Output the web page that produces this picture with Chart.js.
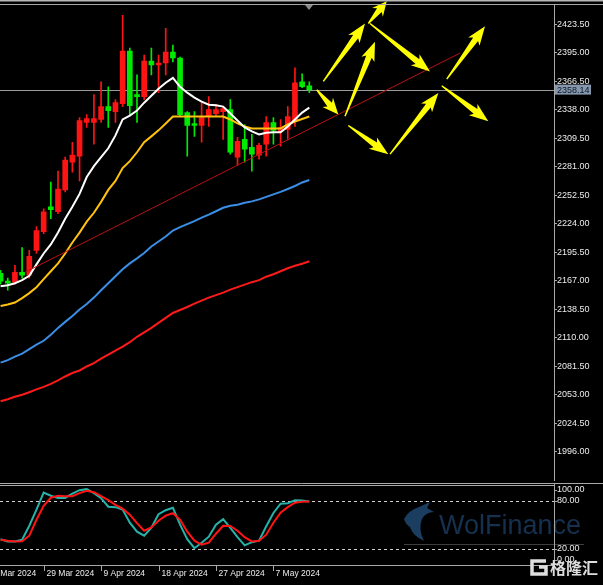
<!DOCTYPE html>
<html>
<head>
<meta charset="utf-8">
<script src="https://cdn.jsdelivr.net/npm/chart.js@4.4.1/dist/chart.umd.min.js"></script>
<style>
    html, body { margin: 0; padding: 0; background: #000; }
    #wrap { position: relative; width: 603px; height: 585px; background: #000; overflow: hidden; }
    #main { position: absolute; left: 0; top: 0; }
    #osc { position: absolute; left: 0; top: 483px; }
</style>
</head>
<body>
<div id="wrap">
    <canvas id="main" width="603" height="486" style="width:603px;height:486px"></canvas>
    <canvas id="osc" width="603" height="102" style="width:603px;height:102px"></canvas>
</div>
<script>
// daily candles
const openP = [2174.5, 2166.6, 2165.6, 2175.5, 2172.6, 2197.4, 2216.2, 2241.0, 2236.0, 2257.9, 2285.6, 2291.6, 2325.3, 2325.3, 2328.3, 2341.2, 2336.2, 2344.1, 2396.7, 2353.1, 2351.1, 2386.8, 2382.8, 2384.8, 2395.7, 2389.8, 2335.2, 2324.3, 2322.3, 2331.3, 2334.2, 2336.2, 2338.2, 2290.6, 2308.4, 2300.5, 2292.6, 2303.5, 2325.3, 2316.4, 2318.4, 2326.3, 2366.0, 2362.0]
const highP = [2177.5, 2169.6, 2182.5, 2200.3, 2197.4, 2221.2, 2239.0, 2265.8, 2276.7, 2290.6, 2305.5, 2330.3, 2333.2, 2353.1, 2366.0, 2361.0, 2348.1, 2432.4, 2399.7, 2372.9, 2392.7, 2399.7, 2392.7, 2419.5, 2402.7, 2390.8, 2336.2, 2336.2, 2345.1, 2351.1, 2343.2, 2341.2, 2348.1, 2310.4, 2323.3, 2313.4, 2304.5, 2331.3, 2330.3, 2328.3, 2341.2, 2379.9, 2373.9, 2366.0]
const lowP = [2163.6, 2157.7, 2163.6, 2169.6, 2169.6, 2194.4, 2214.2, 2229.1, 2234.1, 2255.9, 2275.7, 2266.8, 2320.3, 2303.5, 2325.3, 2320.3, 2325.3, 2341.2, 2333.2, 2325.3, 2348.1, 2372.9, 2355.1, 2372.9, 2385.8, 2331.3, 2291.6, 2311.4, 2305.5, 2321.3, 2331.3, 2308.4, 2293.6, 2282.7, 2285.6, 2276.7, 2288.6, 2291.6, 2303.5, 2301.5, 2308.4, 2321.3, 2360.0, 2355.1]
const closeP = [2166.6, 2164.6, 2175.5, 2172.6, 2191.4, 2217.2, 2236.0, 2238.0, 2258.8, 2287.6, 2292.6, 2327.3, 2329.3, 2329.3, 2341.2, 2337.2, 2345.1, 2396.7, 2342.2, 2351.1, 2386.8, 2382.8, 2384.8, 2395.7, 2389.8, 2333.2, 2322.3, 2322.3, 2330.3, 2338.2, 2338.2, 2339.2, 2295.5, 2306.5, 2298.5, 2293.6, 2302.5, 2325.3, 2317.4, 2320.3, 2331.3, 2365.0, 2361.0, 2358.14]

// moving averages
const maWhite = [2161.6, 2162.6, 2164.6, 2167.6, 2172.0, 2183.4, 2194.3, 2203.3, 2215.2, 2229.1, 2241.0, 2253.9, 2270.7, 2281.6, 2290.6, 2299.5, 2312.4, 2328.3, 2332.2, 2337.2, 2345.1, 2352.1, 2359.0, 2365.0, 2369.9, 2361.0, 2355.1, 2350.1, 2346.1, 2343.1, 2342.6, 2341.2, 2334.2, 2327.3, 2320.3, 2316.4, 2313.4, 2314.9, 2315.4, 2315.4, 2321.3, 2328.3, 2335.2, 2340.2]
const maYellow = [2141.8, 2143.3, 2145.3, 2149.7, 2154.7, 2160.6, 2168.6, 2176.5, 2184.4, 2194.3, 2205.3, 2215.2, 2226.1, 2235.0, 2245.9, 2257.9, 2266.8, 2279.7, 2286.6, 2295.5, 2305.5, 2311.4, 2317.4, 2324.3, 2331.3, 2331.3, 2331.3, 2331.3, 2331.3, 2331.3, 2331.3, 2331.3, 2328.3, 2324.3, 2321.3, 2319.3, 2319.3, 2319.3, 2319.3, 2319.3, 2323.3, 2326.3, 2328.8, 2331.3]
const maBlue = [2085.2, 2087.7, 2091.2, 2094.1, 2098.6, 2103.1, 2107.0, 2113.0, 2119.9, 2125.9, 2131.8, 2138.3, 2143.7, 2150.2, 2157.6, 2164.6, 2171.5, 2178.5, 2184.4, 2189.4, 2194.8, 2201.3, 2206.3, 2211.2, 2217.2, 2220.6, 2223.6, 2226.6, 2230.1, 2233.1, 2236.5, 2240.0, 2242.0, 2243.0, 2245.0, 2246.4, 2248.4, 2250.9, 2253.4, 2255.9, 2258.8, 2261.8, 2265.3, 2267.8]
const maRed = [2046.5, 2048.5, 2051.0, 2053.0, 2055.5, 2058.4, 2060.9, 2063.9, 2067.4, 2071.3, 2074.8, 2077.3, 2081.3, 2084.7, 2089.2, 2093.2, 2097.1, 2101.1, 2105.6, 2111.0, 2115.5, 2119.9, 2124.9, 2129.9, 2134.8, 2137.8, 2140.8, 2144.2, 2147.2, 2150.2, 2152.7, 2155.2, 2158.1, 2160.6, 2163.1, 2165.6, 2167.6, 2171.1, 2173.5, 2176.5, 2179.5, 2182.0, 2184.0, 2186.5]

// stochastic
const stochK = [32.2, 29.5, 29.5, 31.6, 49.1, 69.1, 90.4, 86.6, 83.8, 83.8, 89.1, 93.5, 94.8, 89.8, 83.5, 72.9, 72.3, 69.4, 52.9, 41.6, 36.6, 46.6, 63.5, 68.5, 71.6, 50.4, 32.3, 21.0, 27.9, 35.4, 50.4, 57.3, 46.3, 34.8, 24.5, 28.5, 30.4, 48.5, 65.0, 76.6, 77.3, 80.8, 80.5, 79.5]
const stochD = [31.6, 30.4, 29.5, 29.6, 36.6, 56.6, 74.1, 84.1, 86.6, 86.0, 86.0, 89.8, 92.9, 91.0, 86.0, 81.0, 75.1, 70.4, 62.9, 52.3, 42.9, 47.0, 55.4, 61.6, 64.8, 56.6, 41.6, 30.4, 25.4, 27.9, 39.1, 49.1, 48.9, 42.9, 34.8, 29.5, 30.4, 37.9, 52.9, 65.4, 72.3, 77.9, 79.1, 79.5]

// axes
const yTicks = [2423.5, 2395, 2366.5, 2338, 2309.5, 2281, 2252.5, 2224, 2195.5, 2167, 2138.5, 2110, 2081.5, 2053, 2024.5, 1996]
const oscTicks = [100, 80, 20, 0]
const oscLevels = [80, 20]
const dateTicks = [-2, 6, 14, 22, 30, 38]
const dateLabels = ['20 Mar 2024', '29 Mar 2024', '9 Apr 2024', '18 Apr 2024', '27 Apr 2024', '7 May 2024']
const lastPrice = 2358.14

// drawn objects: trend line and arrows [barFrom, priceFrom, barTo, priceTo]
const trendLine = [{ x: 3.4, y: 2175.5 }, { x: 64, y: 2394.7 }]
const arrows = [
    [44.03, 2358.0, 47.04, 2333.2],
    [44.95, 2366.3, 50.76, 2424.2],
    [51.22, 2424.2, 53.78, 2446.6],
    [47.97, 2331.5, 52.15, 2405.9],
    [51.45, 2424.2, 59.81, 2376.2],
    [48.43, 2322.3, 54.00, 2293.6],
    [54.24, 2293.6, 60.97, 2354.8],
    [62.14, 2368.6, 67.47, 2421.5],
    [61.44, 2362.0, 67.93, 2326.6]
]

const xMin = -0.08
const xMax = 77.08
const font = 'Liberation Sans'
const frameColor = '#a8a8a8'

const idx = openP.map((v, i) => i)
const candleColors = idx.map(i => closeP[i] > openP[i] ? '#ff1414' : '#00ea00')
const series = arr => arr.map((v, i) => ({ x: i, y: v }))
const line = (data, color, width) => ({
    type: 'line', data, borderColor: color, borderWidth: width, pointRadius: 0, tension: 0, order: 0
})

function drawArrow(ctx, x0, y0, x1, y1) {
    const dx = x1 - x0, dy = y1 - y0
    const len = Math.hypot(dx, dy)
    const ux = dx / len, uy = dy / len
    const nx = -uy, ny = ux
    const head = Math.min(16, len * 0.4)
    const bx = x1 - ux * head, by = y1 - uy * head
    const wx = bx - ux * 3, wy = by - uy * 3
    ctx.beginPath()
    ctx.moveTo(x0 + nx * 0.7, y0 + ny * 0.7)
    ctx.lineTo(bx + nx * 3, by + ny * 3)
    ctx.lineTo(wx + nx * 7, wy + ny * 7)
    ctx.lineTo(x1, y1)
    ctx.lineTo(wx - nx * 7, wy - ny * 7)
    ctx.lineTo(bx - nx * 3, by - ny * 3)
    ctx.lineTo(x0 - nx * 0.7, y0 - ny * 0.7)
    ctx.closePath()
    ctx.fill()
}

const mainDecor = {
    id: 'mainDecor',
    beforeDatasetsDraw(chart) {
        const { ctx, chartArea: a, scales: { y } } = chart
        const py = Math.round(y.getPixelForValue(lastPrice)) + 0.5
        ctx.save()
        ctx.strokeStyle = '#9c9c9c'
        ctx.lineWidth = 1
        ctx.beginPath()
        ctx.moveTo(a.left, py)
        ctx.lineTo(a.right, py)
        ctx.stroke()
        ctx.restore()
    },
    afterDatasetsDraw(chart) {
        const { ctx, scales: { x, y } } = chart
        ctx.save()
        ctx.fillStyle = '#ffff00'
        arrows.forEach(a => {
            drawArrow(ctx, x.getPixelForValue(a[0]), y.getPixelForValue(a[1]), x.getPixelForValue(a[2]), y.getPixelForValue(a[3]))
        })
        ctx.restore()
    },
    afterDraw(chart) {
        const { ctx, chartArea: a, scales: { x, y } } = chart
        ctx.save()
        // window frame on top
        ctx.fillStyle = '#b8b8b8'
        ctx.fillRect(0, 0, 603, 1.5)
        ctx.strokeStyle = frameColor
        ctx.lineWidth = 1
        ctx.beginPath()
        ctx.moveTo(0, 4.5)
        ctx.lineTo(603, 4.5)
        ctx.stroke()
        // chart shift marker
        const sx = Math.round(x.getPixelForValue(openP.length - 1))
        ctx.fillStyle = '#8a8a8a'
        ctx.beginPath()
        ctx.moveTo(sx - 4, 5)
        ctx.lineTo(sx + 4, 5)
        ctx.lineTo(sx, 10)
        ctx.closePath()
        ctx.fill()
        // last price label
        const py = y.getPixelForValue(lastPrice)
        ctx.fillStyle = '#8596ad'
        ctx.fillRect(a.right + 1, py - 5, 36, 10)
        ctx.fillStyle = '#0c1826'
        ctx.font = '9px ' + font
        ctx.textBaseline = 'middle'
        ctx.fillText(lastPrice.toFixed(2), a.right + 3, py + 0.5)
        ctx.restore()
    }
}

new Chart(document.getElementById('main'), {
    type: 'bar',
    data: {
        datasets: [
            line(trendLine, '#b81010', 1),
            line(series(maWhite), '#ffffff', 2),
            line(series(maYellow), '#ffc20e', 2),
            line(series(maBlue), '#3a8ee6', 2),
            line(series(maRed), '#ff1a1a', 2),
            {
                data: idx.map(i => ({ x: i, y: [openP[i], closeP[i]] })),
                backgroundColor: candleColors,
                barThickness: 5,
                minBarLength: 2,
                grouped: false,
                order: 1
            },
            {
                data: idx.map(i => ({ x: i, y: [lowP[i], highP[i]] })),
                backgroundColor: candleColors,
                barThickness: 1,
                grouped: false,
                order: 2
            }
        ]
    },
    options: {
        responsive: false,
        animation: false,
        devicePixelRatio: 1,
        layout: { padding: { top: 5, bottom: 2, left: 0, right: 0 }, autoPadding: false },
        plugins: { legend: { display: false }, tooltip: { enabled: false } },
        scales: {
            x: { type: 'linear', min: xMin, max: xMax, offset: false, display: false },
            y: {
                position: 'right',
                min: 1967.2,
                max: 2442.35,
                afterBuildTicks: s => { s.ticks = yTicks.map(v => ({ value: v })) },
                afterFit: s => { s.width = 49 },
                grid: { drawOnChartArea: false, color: frameColor, tickLength: 3 },
                border: { color: frameColor },
                ticks: { color: '#ececec', font: { family: font, size: 9 }, padding: 0, callback: v => v.toFixed(2) }
            }
        }
    },
    plugins: [mainDecor]
})

const oscDecor = {
    id: 'oscDecor',
    beforeDatasetsDraw(chart) {
        const { ctx, chartArea: a, scales: { y } } = chart
        ctx.save()
        // watermark: wolf head + name
        ctx.fillStyle = '#1a3d60'
        ctx.beginPath()
        ctx.moveTo(404, 36)
        ctx.quadraticCurveTo(409, 27, 419, 24)
        ctx.lineTo(430, 19)
        ctx.lineTo(427, 25)
        ctx.lineTo(434, 29)
        ctx.quadraticCurveTo(426, 29, 422, 36)
        ctx.quadraticCurveTo(418, 46, 424, 58)
        ctx.quadraticCurveTo(412, 52, 410, 44)
        ctx.quadraticCurveTo(406, 42, 404, 36)
        ctx.closePath()
        ctx.fill()
        ctx.fillStyle = '#163150'
        ctx.font = '27px ' + font
        ctx.textBaseline = 'alphabetic'
        ctx.fillText('WolFinance', 439, 51)
        ctx.strokeStyle = '#3e3e3e'
        ctx.lineWidth = 1
        ctx.beginPath()
        ctx.moveTo(404, 61.5)
        ctx.lineTo(584, 61.5)
        ctx.stroke()
        // 80 / 20 levels
        ctx.strokeStyle = '#cfcfcf'
        ctx.setLineDash([3, 3])
        oscLevels.forEach(v => {
            const py = Math.round(y.getPixelForValue(v)) + 0.5
            ctx.beginPath()
            ctx.moveTo(a.left, py)
            ctx.lineTo(a.right, py)
            ctx.stroke()
        })
        ctx.restore()
    },
    afterDraw(chart) {
        const { ctx, chartArea: a, scales: { x, y } } = chart
        ctx.save()
        ctx.strokeStyle = frameColor
        ctx.lineWidth = 1
        ctx.beginPath()
        ctx.moveTo(0, 0.5)
        ctx.lineTo(603, 0.5)
        ctx.moveTo(0, 2.5)
        ctx.lineTo(a.right, 2.5)
        ctx.moveTo(0, a.bottom + 0.5)
        ctx.lineTo(a.right, a.bottom + 0.5)
        ctx.moveTo(a.right + 0.5, 0)
        ctx.lineTo(a.right + 0.5, a.bottom + 1)
        ctx.stroke()

        ctx.fillStyle = '#ececec'
        ctx.font = '9px ' + font
        ctx.textBaseline = 'middle'
        oscTicks.forEach(v => {
            const py = Math.min(Math.max(y.getPixelForValue(v), a.top + 5), a.bottom - 5)
            ctx.beginPath()
            ctx.moveTo(a.right, Math.round(py) + 0.5)
            ctx.lineTo(a.right + 3, Math.round(py) + 0.5)
            ctx.stroke()
            ctx.fillText(v.toFixed(2), a.right + 3, py)
        })

        ctx.font = '8.5px ' + font
        dateTicks.forEach((t, i) => {
            const px = Math.round(x.getPixelForValue(t)) + 0.5
            ctx.beginPath()
            ctx.moveTo(px, a.bottom + 1)
            ctx.lineTo(px, a.bottom + 6)
            ctx.stroke()
            ctx.fillText(dateLabels[i], px + 2, a.bottom + 9)
        })

        // 格隆汇 logo
        ctx.strokeStyle = '#dedede'
        ctx.lineWidth = 3.5
        ctx.beginPath()
        ctx.moveTo(546, 78)
        ctx.lineTo(532, 78)
        ctx.lineTo(532, 91)
        ctx.lineTo(546, 91)
        ctx.lineTo(546, 84)
        ctx.lineTo(539, 84)
        ctx.stroke()
        ctx.fillStyle = '#dedede'
        ctx.font = 'bold 16px "Noto Sans CJK SC"'
        ctx.textBaseline = 'middle'
        ctx.fillText('格隆汇', 550, 85)
        ctx.restore()
    }
}

new Chart(document.getElementById('osc'), {
    type: 'line',
    data: {
        datasets: [
            { data: series(stochD), borderColor: '#ff1414', borderWidth: 2, pointRadius: 0, tension: 0 },
            { data: series(stochK), borderColor: '#26b3aa', borderWidth: 2, pointRadius: 0, tension: 0 }
        ]
    },
    options: {
        responsive: false,
        animation: false,
        devicePixelRatio: 1,
        layout: { padding: { top: 2, bottom: 20, left: 0, right: 49 }, autoPadding: false },
        plugins: { legend: { display: false }, tooltip: { enabled: false } },
        scales: {
            x: { type: 'linear', min: xMin, max: xMax, display: false },
            y: { min: 0, max: 100, display: false }
        }
    },
    plugins: [oscDecor]
})
</script>
</body>
</html>
